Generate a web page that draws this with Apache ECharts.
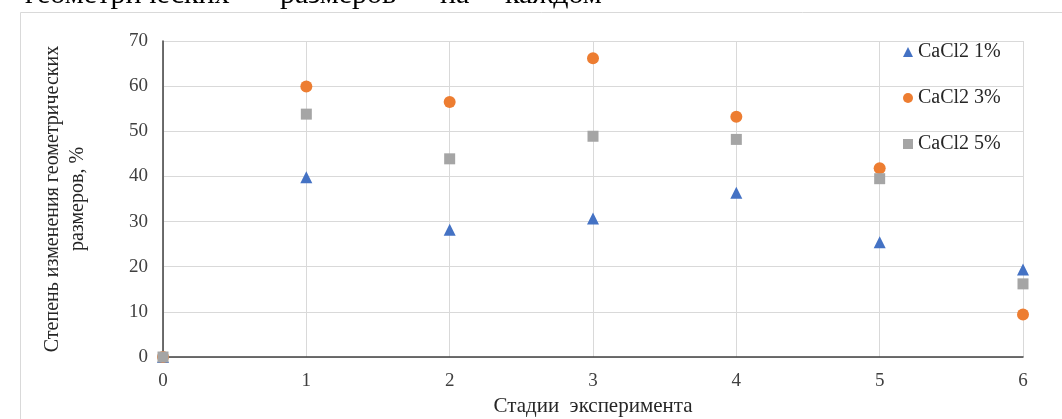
<!DOCTYPE html>
<html>
<head>
<meta charset="utf-8">
<script src="https://cdn.jsdelivr.net/npm/echarts@6/dist/echarts.min.js"></script>
<style>
html,body{margin:0;padding:0;background:#fff;}
#c{width:1062px;height:419px;}
</style>
</head>
<body>
<div id="c"></div>
<script>
var stages = [0, 1, 2, 3, 4, 5, 6];
var seriesNames = ['CaCl2 1%', 'CaCl2 3%', 'CaCl2 5%'];
var cacl1 = [0, 39.8, 28.2, 30.7, 36.4, 25.4, 19.4];
var cacl3 = [0, 59.9, 56.5, 66.2, 53.2, 41.8, 9.4];
var cacl5 = [0, 53.8, 43.9, 48.9, 48.2, 39.5, 16.2];
var yTicks = [0, 10, 20, 30, 40, 50, 60, 70];
var headerWords = ['геометрических', 'размеров', 'на', 'каждом'];

var serif = '"Liberation Serif", "DejaVu Serif", serif';
function pairs(vals){ return stages.map(function(s,i){ return [s, vals[i]]; }); }

var chart = echarts.init(document.getElementById('c'), null, {renderer:'canvas'});
var headerX = [25, 280, 440, 505];
chart.setOption({
  animation:false,
  backgroundColor:'#fff',
  graphic:[
    {type:'rect', shape:{x:20.5, y:12.5, width:1100, height:500}, style:{fill:'none', stroke:'#d9d9d9', lineWidth:1}, z:-10}
  ].concat(headerWords.map(function(w,i){
    return {type:'text', x:headerX[i], y:10, style:{text:w, font:'30px ' + serif, fill:'#000', textVerticalAlign:'bottom'}};
  })),
  grid:{left:163, right:39, top:41, bottom:62, containLabel:false, outerBoundsMode:'none'},
  legend:{
    data:[
      {name:seriesNames[0], icon:'triangle'},
      {name:seriesNames[1], icon:'circle'},
      {name:seriesNames[2], icon:'rect'}
    ],
    orient:'vertical', left:898, top:37, itemWidth:10, itemHeight:10, itemGap:26,
    textStyle:{fontFamily:serif, fontSize:20, color:'#262626'}
  },
  xAxis:{
    type:'value', min:0, max:6, interval:1,
    name:'Стадии  эксперимента', nameLocation:'middle', nameGap:38,
    nameTextStyle:{fontFamily:serif, fontSize:21, color:'#262626'},
    axisLine:{show:true, lineStyle:{color:'#404040', width:1.5}},
    axisTick:{show:false},
    axisLabel:{fontFamily:serif, fontSize:19, color:'#404040', margin:15},
    splitLine:{show:true, lineStyle:{color:'#d9d9d9', width:1}}
  },
  yAxis:{
    type:'value', min:0, max:70, interval:10,
    name:'Степень изменения геометрических\nразмеров, %', nameLocation:'middle', nameGap:73, nameRotate:90,
    nameTextStyle:{fontFamily:serif, fontSize:20, color:'#262626', lineHeight:25},
    axisLine:{show:true, lineStyle:{color:'#404040', width:1.5}},
    axisTick:{show:false},
    axisLabel:{fontFamily:serif, fontSize:19, color:'#404040', margin:15,
      formatter:function(v){ return yTicks.indexOf(v) >= 0 ? String(v) : ''; }},
    splitLine:{show:true, lineStyle:{color:'#d9d9d9', width:1}}
  },
  series:[
    {name:seriesNames[0], type:'scatter', symbol:'triangle', symbolSize:12, data:pairs(cacl1), itemStyle:{color:'#4472C4', opacity:1}},
    {name:seriesNames[1], type:'scatter', symbol:'circle', symbolSize:12, data:pairs(cacl3), itemStyle:{color:'#ED7D31', opacity:1}},
    {name:seriesNames[2], type:'scatter', symbol:'rect', symbolSize:11, data:pairs(cacl5), itemStyle:{color:'#A5A5A5', opacity:1}}
  ]
});
</script>
</body>
</html>
